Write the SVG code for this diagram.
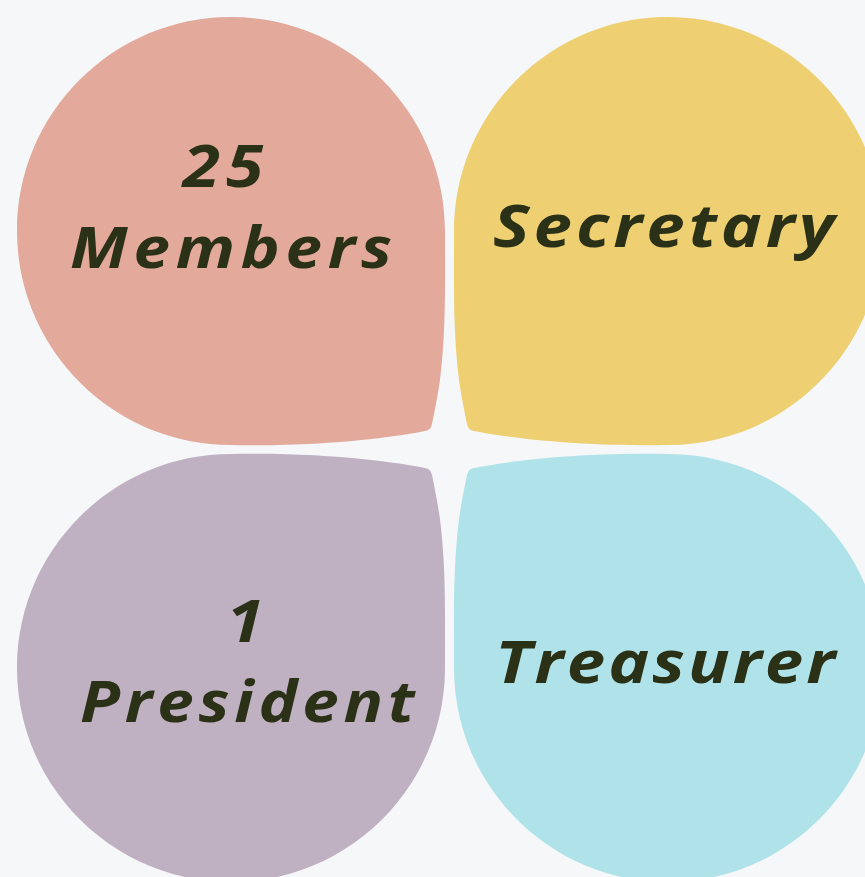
<svg xmlns="http://www.w3.org/2000/svg" width="865" height="877" viewBox="0 0 865 877">
<style>
.lbl{font-family:"Open Sans","Liberation Sans",sans-serif;font-weight:700;font-style:italic;fill:#2b3117;}
</style>
<defs>
<path id="petal" d="M17,231 C17,113 113,17 231,17 C349,17 445,113 445,231 C445,290 446,330 440,380 C437,400 434,414 432,424 Q431,430 425,431 C400,436 330,447 231,445 C113,445 17,349 17,231 Z"/>
</defs>
<rect width="865" height="877" fill="#f5f7f9"/>
<g id="members">
<use href="#petal" fill="#e3aa9c"/>
<text class="lbl" transform="scale(1.15 1)" x="159" y="187" font-size="59" textLength="70" lengthAdjust="spacing">25</text>
<text class="lbl" transform="scale(1.15 1)" x="60.9" y="268" font-size="57" textLength="280" lengthAdjust="spacing">Members</text>
</g>
<g id="secretary">
<use href="#petal" fill="#eecf72" transform="matrix(-1 0 0 1 899 0)"/>
<text class="lbl" transform="scale(1.15 1)" x="428.7" y="247" font-size="60" textLength="297" lengthAdjust="spacing">Secretary</text>
</g>
<g id="president">
<use href="#petal" fill="#bfb0c2" transform="matrix(1 0 0 -1 0 899)"/>
<text class="lbl" transform="scale(1.15 1)" x="197" y="642" font-size="59">1</text>
<text class="lbl" transform="scale(1.15 1)" x="69.6" y="722" font-size="57" textLength="291" lengthAdjust="spacing">President</text>
</g>
<g id="treasurer">
<use href="#petal" fill="#afe3e9" transform="matrix(-1 0 0 -1 899 899)"/>
<text class="lbl" transform="scale(1.15 1)" x="430.4" y="683" font-size="60" textLength="296" lengthAdjust="spacing">Treasurer</text>
</g>
<g id="connectors"/>
</svg>
